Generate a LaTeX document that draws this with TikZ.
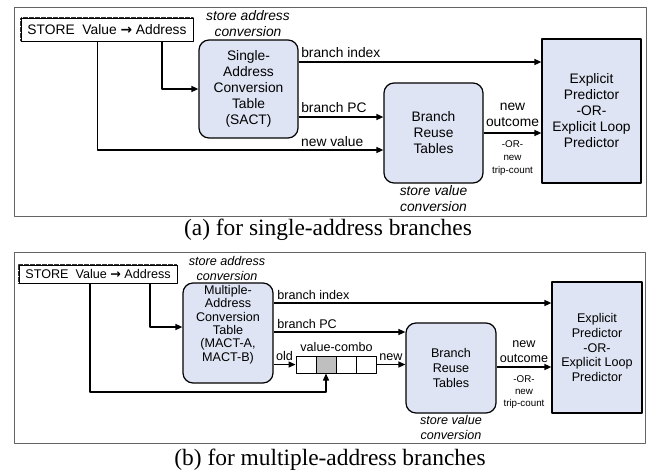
\documentclass[tikz,border=0pt]{standalone}
\usepackage{fontspec}
\setmainfont{Liberation Serif}
\setsansfont{Liberation Sans}
\newfontfamily\arrowfont{DejaVu Sans}
\usetikzlibrary{arrows.meta}
\definecolor{tblfill}{RGB}{222,228,243}
\definecolor{cellgray}{RGB}{191,191,191}
\definecolor{framegray}{RGB}{100,100,100}
\newcommand{\txtA}{\sffamily\fontsize{13.8}{16}\selectfont}
\newcommand{\txtB}{\sffamily\fontsize{12.6}{14.8}\selectfont}
\newcommand{\txtS}{\sffamily\fontsize{9.8}{13.2}\selectfont}
\newcommand{\txtCap}{\rmfamily\fontsize{23.4}{28}\selectfont}
\newcommand{\storeto}{{\arrowfont\bfseries →}}
\begin{document}
\begin{tikzpicture}[x=1pt, y=-1pt, font=\txtA, line join=round, >={Triangle[length=7pt,width=6pt]},
		every node/.style={inner sep=0pt},
		panel/.style={draw=framegray, line width=0.9pt},
		stbox/.style={draw, line width=0.6pt, fill=white, preaction={draw=black!80, line width=2pt, dash pattern=on 0.7pt off 0.5pt}},
		tbl/.style={draw, line width=1.2pt, fill=tblfill, rounded corners=10pt, align=center},
		pred/.style={draw, line width=1.2pt, fill=tblfill, align=center},
		wire/.style={line width=1.4pt},
		conv/.style={font=\txtA\itshape, align=center},
		cell/.style={draw, line width=1pt, minimum width=20pt, minimum height=17pt}]
		\useasboundingbox (0,0) rectangle (648,472);
		\draw[panel] (14,7) rectangle (646,216);
		\node[stbox, minimum width=172pt, minimum height=23pt] (storeA) at (107,29.5) {STORE\ \ Value \storeto\ Address};
		\node[conv] (saconvA) at (248,23.5) {store address\\conversion};
		\node[tbl, minimum width=99pt, minimum height=98pt] (sact) at (248.5,89) {Single-\\Address\\Conversion\\Table\\(SACT)};
		\node[tbl, minimum width=99pt, minimum height=100pt] (brtA) at (433.5,133) {Branch\\Reuse\\Tables};
		\node[pred, minimum width=99pt, minimum height=144pt] (predA) at (591.5,111) {Explicit\\Predictor\\-OR-\\Explicit Loop\\Predictor};
		\node[conv] (svconvA) at (433.5,199) {store value\\conversion};
		\coordinate (tapA1) at (97.7,150);
		\coordinate (tapA2) at (162,89);
		\coordinate (idxA) at (0,62);
		\coordinate (pcA) at (0,117);
		\coordinate (outA) at (0,133);
		\draw[wire,->] (storeA.south -| tapA2) |- (sact.west |- tapA2);
		\draw[wire,->] (storeA.south -| tapA1) |- (brtA.west |- tapA1);
		\node[anchor=base west] (nvA) at (301,146) {new value};
		\draw[wire,->] (sact.east |- idxA) -- (predA.west |- idxA) node[pos=0, anchor=base west, xshift=2pt, yshift=4.5pt] {branch index};
		\draw[wire,->] (sact.east |- pcA) -- (brtA.west |- pcA) node[pos=0, anchor=base west, xshift=2pt, yshift=4.5pt] {branch PC};
		\draw[wire,->] (brtA.east |- outA) -- (predA.west |- outA)
			node[midway, anchor=south, yshift=5.5pt, align=center] {new\\outcome}
			node[midway, anchor=north, yshift=-7pt, align=center, font=\txtS] {-OR-\\new\\trip-count};
		\node[font=\txtCap] (capA) at (328,229.5) {(a) for single-address branches};
		\draw[panel] (14,252) rectangle (645,443);
		\node[stbox, font=\txtB, minimum width=158pt, minimum height=18pt] (storeB) at (98,274) {STORE\ \ Value \storeto\ Address};
		\node[conv, font=\txtB\itshape] (saconvB) at (227,268.5) {store address\\conversion};
		\node[tbl, minimum width=90pt, minimum height=100pt] (mact) at (228,333) {};
		\node[align=center, font={\sffamily\fontsize{12.6}{13.3}\selectfont}] (macttxt) at ([yshift=8.5pt]mact.center) {Multiple-\\Address\\Conversion\\Table\\(MACT-A,\\MACT-B)};
		\node[tbl, font=\txtB, minimum width=90pt, minimum height=90pt] (brtB) at (451,368) {Branch\\Reuse\\Tables};
		\node[pred, font=\txtB, minimum width=90pt, minimum height=131pt] (predB) at (597,347.5) {Explicit\\Predictor\\-OR-\\Explicit Loop\\Predictor};
		\node[conv, font=\txtB\itshape] (svconvB) at (451,427.5) {store value\\conversion};
		\foreach \i/\c in {1/white,2/cellgray,3/white,4/white}
			\node[cell, fill=\c] (cell\i) at (286+20*\i,364.5) {};
		\node[font=\txtB, anchor=base] (vcombo) at ([yshift=4pt]cell2.north east) {value-combo};
		\coordinate (tapB1) at (90,392);
		\coordinate (tapB2) at (150,327);
		\coordinate (idxB) at (0,303);
		\coordinate (pcB) at (0,332);
		\coordinate (outB) at (0,367);
		\draw[wire,->] (storeB.south -| tapB2) |- (mact.west |- tapB2);
		\draw[wire,->] (storeB.south -| tapB1) |- (cell2.south |- tapB1) -- (cell2.south);
		\draw[wire,->] (mact.east |- idxB) -- (predB.west |- idxB) node[pos=0, anchor=base west, xshift=3pt, yshift=4pt, font=\txtB] {branch index};
		\draw[wire,->] (mact.east |- pcB) -- (brtB.west |- pcB) node[pos=0, anchor=base west, xshift=3pt, yshift=4pt, font=\txtB] {branch PC};
		\draw[wire,->] (mact.east |- cell1.west) -- (cell1.west) node[midway, anchor=base, yshift=4pt, font=\txtB] {old};
		\draw[wire,->] (cell4.east) -- (brtB.west |- cell4.east) node[midway, anchor=base, yshift=4pt, font=\txtB] {new};
		\draw[wire,->] (brtB.east |- outB) -- (predB.west |- outB)
			node[midway, anchor=south, yshift=4pt, align=center, font=\txtB] {new\\outcome}
			node[midway, anchor=north, yshift=-8pt, align=center, font={\sffamily\fontsize{9.8}{11.8}\selectfont}] {-OR-\\new\\trip-count};
		\node[font=\txtCap] (capB) at (330,459.5) {(b) for multiple-address branches};
	\end{tikzpicture}
\end{document}
